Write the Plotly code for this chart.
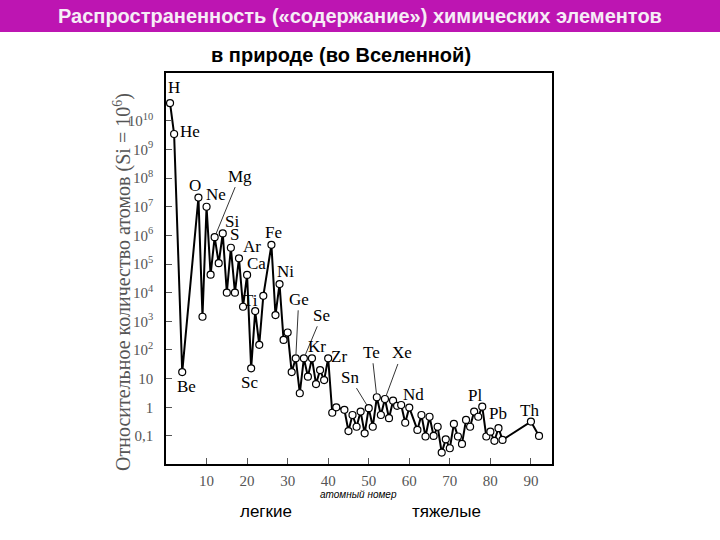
import plotly.graph_objects as go

# ---- data (log10 of abundance, Si = 10^6) ----
atomic_number = [1, 2, 4, 8, 9, 10, 11, 12, 13, 14, 15, 16, 17, 18, 19, 20, 21, 22, 23, 24,
                 26, 27, 28, 29, 30, 31, 32, 33, 34, 35, 36, 37, 38, 39, 40, 41, 42, 44, 45,
                 46, 47, 48, 49, 50, 51, 52, 53, 54, 55, 56, 57, 58, 59, 60, 62, 63, 64, 65,
                 66, 67, 68, 69, 70, 71, 72, 73, 74, 75, 76, 77, 78, 79, 80, 81, 82, 83, 90, 92]
log_abundance = [10.62, 9.54, 1.23, 7.32, 3.16, 7.00, 4.63, 5.94, 5.03, 6.07, 4.00, 5.57, 4.00,
                 5.20, 3.51, 4.62, 1.36, 3.36, 2.18, 3.89, 5.67, 3.22, 4.30, 2.35, 2.61, 1.23,
                 1.71, 0.49, 1.71, 1.07, 1.71, 0.81, 1.30, 0.95, 1.71, -0.19, 0.00, -0.09, -0.83,
                 -0.27, -0.68, -0.15, -0.91, -0.03, -0.68, 0.35, -0.27, 0.29, -0.38, 0.23, 0.05,
                 0.08, -0.54, -0.01, -0.79, -0.27, -1.02, -0.33, -1.00, -0.68, -1.58, -1.12,
                 -1.43, -0.58, -1.02, -1.28, -0.44, -0.68, -0.15, -0.33, 0.02, -1.02, -0.85,
                 -1.17, -0.73, -1.14, -0.50, -1.00]

label_text = ["H", "He", "Be", "O", "Ne", "Mg", "Si", "S", "Ar", "Ca", "Ti", "Sc", "Fe", "Ni",
              "Ge", "Se", "Kr", "Zr", "Sn", "Te", "Xe", "Nd", "Pl", "Pb", "Th"]
label_z = [1, 2, 4, 8, 10, 12, 14, 16, 18, 20, 22, 21, 26, 28, 32, 34, 36, 40, 50, 52, 54, 60, 78, 82, 90]

y_tick_vals = [-1, 0, 1, 2, 3, 4, 5, 6, 7, 8, 9, 10]
y_tick_text = ["0,1", "1", "10", "10<sup>2</sup>", "10<sup>3</sup>", "10<sup>4</sup>",
               "10<sup>5</sup>", "10<sup>6</sup>", "10<sup>7</sup>", "10<sup>8</sup>",
               "10<sup>9</sup>", "10<sup>10</sup>"]
x_tick_vals = [10, 20, 30, 40, 50, 60, 70, 80, 90]

# ---- label placement (pixel offsets text-centre minus point, leader flag) ----
label_dx = [4, 16, 4, -3, 9, 25, 9, 4, 13, 9, -5, -2, 2, 6, 3, 18, 5, 11, -19, -5, 17, 4, -7, 0, -1]
label_dy = [-16, -3, 14, -12, -12, -61, -12, -13, -12, -11, -11, 14, -12, -13, -59, -43, -12, -2,
            -31, -45, -46, -13, -11, -15, -11]
label_leader = [False, False, False, False, False, True, False, False, False, False, False, False,
                False, False, True, True, False, False, True, True, True, False, False, False, False]

W, H = 720, 540
ML, MR, MT, MB = 166, 168, 73, 76
PW, PH = W - ML - MR, H - MT - MB


def px_x(px):
    return (px - ML) / PW


def px_y(py):
    return (H - MB - py) / PH


SERIF = "Liberation Serif"
SANS = "Liberation Sans"

fig = go.Figure()
fig.add_trace(go.Scatter(
    x=atomic_number, y=log_abundance, mode="lines+markers",
    line=dict(color="black", width=2),
    marker=dict(symbol="circle", size=7, color="white", line=dict(color="black", width=1.2)),
    hoverinfo="x+y", showlegend=False,
))

lookup = dict(zip(atomic_number, log_abundance))
annotations = []
for t, z, dx, dy, lead in zip(label_text, label_z, label_dx, label_dy, label_leader):
    yv = lookup[z]
    if lead:
        annotations.append(dict(x=z, y=yv, xref="x", yref="y", text=t, showarrow=True,
                                ax=dx, ay=dy, arrowhead=0, arrowwidth=0.8, arrowcolor="black",
                                standoff=4, font=dict(family=SERIF, size=17, color="black")))
    else:
        annotations.append(dict(x=z, y=yv, xref="x", yref="y", text=t, showarrow=False,
                                xshift=dx, yshift=-dy, xanchor="center", yanchor="middle",
                                font=dict(family=SERIF, size=17, color="black")))


def paper_text(px, py, text, font, angle=0):
    return dict(x=px_x(px), y=px_y(py), xref="paper", yref="paper", showarrow=False,
                xanchor="center", yanchor="middle", text=text, textangle=angle, font=font)


annotations += [
    paper_text(360, 16, "<b>Распространенность («содержание») химических элементов</b>",
               dict(family=SANS, size=20, color="#F6ECF6")),
    paper_text(341, 55, "<b>в природе (во Вселенной)</b>",
               dict(family=SANS, size=20, color="black")),
    paper_text(122, 282, "Относительное количество атомов (Si = 10<sup>6</sup>)",
               dict(family=SERIF, size=20, color="#555555"), angle=-90),
    paper_text(358, 494, "<i>атомный номер</i>", dict(family=SANS, size=10, color="black")),
    paper_text(266, 512, "легкие", dict(family=SANS, size=17, color="black")),
    paper_text(446, 512, "тяжелые", dict(family=SANS, size=17, color="black")),
]

shapes = [dict(type="rect", xref="paper", yref="paper", x0=px_x(0), x1=px_x(720),
               y0=px_y(32), y1=px_y(0), fillcolor="#BD15B2", line=dict(width=0), layer="below")]

axis_common = dict(showgrid=False, zeroline=False, showline=True, linecolor="black",
                   linewidth=1.5, mirror=True, ticks="inside", ticklen=6, tickwidth=1,
                   tickcolor="#555555",
                   tickfont=dict(family=SERIF, size=15, color="#555555"))

fig.update_layout(
    width=W, height=H, margin=dict(l=ML, r=MR, t=MT, b=MB),
    paper_bgcolor="white", plot_bgcolor="white",
    xaxis=dict(range=[0, 95.2], tickvals=x_tick_vals, ticklabelstandoff=2, **axis_common),
    yaxis=dict(range=[-1.98, 11.67], tickvals=y_tick_vals, ticktext=y_tick_text,
               ticklabelstandoff=8, **axis_common),
    annotations=annotations, shapes=shapes,
)

fig.write_html("out.html", config={"displayModeBar": False},
               post_script="document.body.style.margin='0px';")
